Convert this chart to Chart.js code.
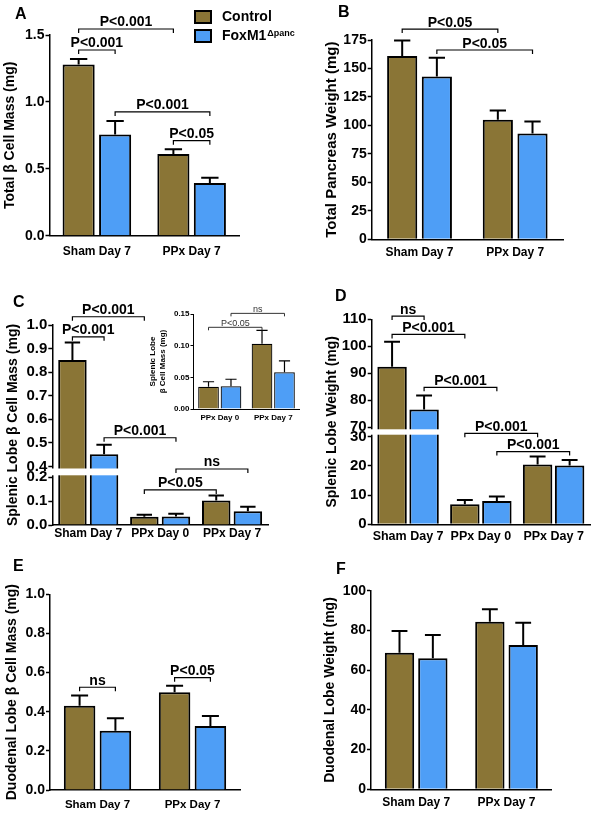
<!DOCTYPE html>
<html>
<head>
<meta charset="utf-8">
<script src="https://cdn.jsdelivr.net/npm/chart.js@4.4.0/dist/chart.umd.min.js"></script>
<style>
  body { margin: 0; background: #fff; }
  #fig { position: relative; width: 599px; height: 825px; overflow: hidden; background: #fff; }
  #fig canvas { position: absolute; }
</style>
</head>
<body>
<div id="fig">
  <canvas id="chartA"></canvas>
  <canvas id="chartB"></canvas>
  <canvas id="chartC"></canvas>
  <canvas id="chartD"></canvas>
  <canvas id="chartE"></canvas>
  <canvas id="chartF"></canvas>
  <canvas id="chartInset"></canvas>
</div>
<script>
// ---- data ----
const seriesNames = ['Control', 'FoxM1'];
const seriesSup = 'Δpanc';

const catsTwo = ['Sham Day 7', 'PPx Day 7'];
const catsThree = ['Sham Day 7', 'PPx Day 0', 'PPx Day 7'];

// A: total beta cell mass (mg)
const ctrlA = [1.28, 0.61];
const ctrlErrA = [0.04, 0.037];
const foxA = [0.757, 0.393];
const foxErrA = [0.10, 0.04];

// B: total pancreas weight (mg)
const ctrlB = [161, 105];
const ctrlErrB = [13.5, 8];
const foxB = [143, 93];
const foxErrB = [16.5, 10.5];

// C: splenic lobe beta cell mass (mg), also used by the inset
const ctrlC = [0.852, 0.035, 0.103];
const ctrlErrC = [0.074, 0.008, 0.021];
const foxC = [0.452, 0.036, 0.058];
const foxErrC = [0.04, 0.011, 0.018];
const ticksC = [0, 0.1, 0.2, 0.4, 0.5, 0.6, 0.7, 0.8, 0.9, 1.0];

// D: splenic lobe weight (mg)
const ctrlD = [92.4, 6.9, 20.5];
const ctrlErrD = [9.3, 1.4, 2.7];
const foxD = [76.6, 8.0, 20.1];
const foxErrD = [5.2, 1.5, 1.9];
const ticksD = [0, 10, 20, 30, 70, 80, 90, 100, 110];

// E: duodenal lobe beta cell mass (mg)
const ctrlE = [0.43, 0.50];
const ctrlErrE = [0.053, 0.033];
const foxE = [0.303, 0.327];
const foxErrE = [0.063, 0.051];

// F: duodenal lobe weight (mg)
const ctrlF = [68.8, 84.4];
const ctrlErrF = [10.9, 6.2];
const foxF = [66, 72.7];
const foxErrF = [11.7, 11.2];

// significance brackets: [from, to, y value, label]
// from/to is [dataset, category] (a bar) or a category position
const sigA = [
  [[0, 0], [0, 1], 1.545, 'P<0.001'],
  [[0, 0], [1, 0], 1.388, 'P<0.001'],
  [[1, 0], [1, 1], 0.925, 'P<0.001'],
  [[0, 1], [1, 1], 0.71, 'P<0.05']
];
const sigB = [
  [[0, 0], [0, 1], 184.6, 'P<0.05'],
  [[1, 0], [1, 1], 166.2, 'P<0.05']
];
const sigC = [
  [[0, 0], [0, 1], 1.035, 'P<0.001'],
  [[0, 0], [1, 0], 0.95, 'P<0.001'],
  [[1, 0], [1, 1], 0.522, 'P<0.001'],
  [[1, 1], [1, 2], 0.354, 'ns'],
  [[0, 1], [0, 2], 0.147, 'P<0.05']
];
const sigD = [
  [[0, 0], [1, 0], 111.2, 'ns'],
  [[0, 0], [0, 1], 104.4, 'P<0.001'],
  [[1, 0], [1, 1], 84.8, 'P<0.001'],
  [[0, 1], [0, 2], 44.5, 'P<0.001'],
  [[1, 1], [1, 2], 24.9, 'P<0.001']
];
const sigE = [
  [[0, 0], [1, 0], 0.525, 'ns'],
  [[0, 1], [1, 1], 0.574, 'P<0.05']
];
const sigInset = [
  [[0, 0], [0, 1], 0.129, 'P<0.05'],
  [[1, 0], [1, 1], 0.151, 'ns']
];

// ---- style ----
const FONT = "'Liberation Sans', Arial, sans-serif";
const BROWN = '#8a7536';
const BLUE = '#4e9ef6';

Chart.defaults.font.family = FONT;
Chart.defaults.font.weight = 'bold';
Chart.defaults.color = '#000';
Chart.defaults.animation = false;

// linear scale with a gap (broken axis)
class BrokenScale extends Chart.LinearScale {
  brkDecimal(v) {
    const b = this.brk;
    if (v <= b.lo) return (v - this.min) / (b.lo - this.min) * b.dLo;
    if (v >= b.hi) return b.dHi + (v - b.hi) / (this.max - b.hi) * (1 - b.dHi);
    return b.dLo + (v - b.lo) / (b.hi - b.lo) * (b.dHi - b.dLo);
  }
  getPixelForValue(v) {
    return v === null ? NaN : this.getPixelForDecimal(this.brkDecimal(v));
  }
  getValueForPixel(p) {
    const b = this.brk;
    const d = this.getDecimalForPixel(p);
    if (d <= b.dLo) return this.min + d / b.dLo * (b.lo - this.min);
    if (d >= b.dHi) return b.hi + (d - b.dHi) / (1 - b.dHi) * (this.max - b.hi);
    return b.lo + (d - b.dLo) / (b.dHi - b.dLo) * (b.hi - b.lo);
  }
}
BrokenScale.id = 'broken';
BrokenScale.defaults = Chart.LinearScale.defaults;
Chart.register(BrokenScale);

// error bars, break stripe, brackets, panel letter, legend
function decor(p) {
  return {
    id: 'decor',
    afterDatasetsDraw(chart) {
      const ctx = chart.ctx, a = chart.chartArea, ys = chart.scales.y;
      ctx.save();
      ctx.beginPath();
      ctx.rect(a.left, a.top - 3, a.right - a.left, a.bottom - a.top + 3);
      ctx.clip();
      ctx.strokeStyle = '#000';
      ctx.lineWidth = p.errW;
      chart.data.datasets.forEach((ds, di) => {
        chart.getDatasetMeta(di).data.forEach((bar, i) => {
          const top = ys.getPixelForValue(ds.data[i] + ds.err[i]);
          const half = bar.width * 0.27;
          ctx.beginPath();
          ctx.moveTo(bar.x, bar.y);
          ctx.lineTo(bar.x, top);
          ctx.moveTo(bar.x - half, top);
          ctx.lineTo(bar.x + half, top);
          ctx.stroke();
        });
      });
      ctx.restore();
      if (p.brk) {
        const y1 = ys.getPixelForValue(p.brk.hi) + 2;
        const y2 = ys.getPixelForValue(p.brk.lo) - 2;
        const last = chart.getDatasetMeta(1).data[0];
        ctx.fillStyle = '#fff';
        ctx.fillRect(a.left - 2, y1, last.x + last.width / 2 + 3 - (a.left - 2), y2 - y1);
      }
    },
    afterDraw(chart) {
      const ctx = chart.ctx, ys = chart.scales.y, xs = chart.scales.x;
      const xOf = e => Array.isArray(e) ? chart.getDatasetMeta(e[0]).data[e[1]].x : xs.getPixelForValue(e);
      ctx.save();
      ctx.strokeStyle = p.sigColor || '#000';
      ctx.fillStyle = p.sigColor || '#000';
      ctx.lineWidth = p.sigW || 1.2;
      ctx.font = p.sigFont || ('bold 14px ' + FONT);
      ctx.textAlign = 'center';
      ctx.textBaseline = 'alphabetic';
      (p.sig || []).forEach(([from, to, v, label]) => {
        const x1 = xOf(from), x2 = xOf(to), y = ys.getPixelForValue(v);
        ctx.beginPath();
        ctx.moveTo(x1, y + p.leg);
        ctx.lineTo(x1, y);
        ctx.lineTo(x2, y);
        ctx.lineTo(x2, y + p.leg);
        ctx.stroke();
        ctx.fillText(label, (x1 + x2) / 2, y - p.sigGap);
      });
      if (p.letter) {
        ctx.fillStyle = '#000';
        ctx.font = 'bold 16px ' + FONT;
        ctx.textAlign = 'left';
        ctx.textBaseline = 'middle';
        ctx.fillText(p.letter[0], p.letter[1], p.letter[2]);
      }
      if (p.legend) {
        const L = p.legend;
        chart.data.datasets.forEach((ds, i) => {
          const top = L.y + i * L.step;
          ctx.fillStyle = ds.backgroundColor;
          ctx.fillRect(L.x, top, L.w, L.h);
          ctx.strokeStyle = '#000';
          ctx.lineWidth = 2;
          ctx.strokeRect(L.x, top, L.w, L.h);
          ctx.fillStyle = '#000';
          ctx.font = 'bold 14px ' + FONT;
          ctx.textAlign = 'left';
          ctx.textBaseline = 'middle';
          const tx = L.x + L.w + 11;
          ctx.fillText(ds.label, tx, top + L.h / 2 + 0.5);
          if (i === 1) {
            const w = ctx.measureText(ds.label).width;
            ctx.font = 'bold 9px ' + FONT;
            ctx.textBaseline = 'alphabetic';
            ctx.fillText(seriesSup, tx + w + 1, top + L.h / 2 - 0.5);
          }
        });
      }
      ctx.restore();
    }
  };
}

function barPanel(id, p) {
  const [ox, oy, w, h] = p.box;
  const [l, t, r, b] = p.area;
  const el = document.getElementById(id);
  el.width = w;
  el.height = h;
  el.style.left = ox + 'px';
  el.style.top = oy + 'px';
  const lineW = p.lineW || 1.5;

  const yOpts = {
    type: p.brk ? 'broken' : 'linear',
    min: p.min,
    max: p.max,
    ticks: { stepSize: p.step, autoSkip: false, padding: p.tickPad || 1, font: { size: p.tickSize }, callback: p.fmt },
    grid: { drawOnChartArea: false, tickLength: p.tickLen || 4, tickWidth: lineW, tickColor: '#000', color: '#000' },
    border: { color: '#000', width: lineW },
    title: {
      display: true, text: p.title,
      font: { size: p.titleSize || 14, lineHeight: p.titleLH || 1.2 },
      padding: { top: p.titlePad, bottom: 0 }
    },
    afterFit: s => { s.width = l - ox; }
  };
  if (p.ticks) yOpts.afterBuildTicks = s => { s.ticks = p.ticks.map(v => ({ value: v })); };
  if (p.brk) yOpts.afterDataLimits = s => { s.brk = p.brk; };

  return new Chart(el, {
    type: 'bar',
    data: {
      labels: p.labels,
      datasets: p.series.map((s, i) => ({
        label: seriesNames[i],
        data: s[0],
        err: s[1],
        backgroundColor: [BROWN, BLUE][i],
        borderColor: '#000',
        borderWidth: p.barBorder || 2,
        categoryPercentage: p.catPct,
        barPercentage: p.barPct
      }))
    },
    options: {
      responsive: false,
      animation: false,
      layout: { padding: { left: 0, top: t - oy, right: ox + w - r, bottom: oy + h - b - p.xH } },
      scales: {
        x: {
          grid: { display: false, drawTicks: false, tickLength: 0 },
          border: { color: '#000', width: lineW },
          ticks: { font: { size: p.xSize }, padding: p.xPad, maxRotation: 0, autoSkip: false },
          afterFit: s => { s.height = p.xH; }
        },
        y: yOpts
      },
      plugins: { legend: { display: false }, tooltip: { enabled: false } }
    },
    plugins: [decor(p)]
  });
}

const fix1 = v => Number(v).toFixed(1);
const fix2 = v => Number(v).toFixed(2);
const whole = v => String(Math.round(v));

barPanel('chartA', {
  box: [0, 0, 300, 270], area: [49.5, 35, 239, 235.7],
  labels: catsTwo, series: [[ctrlA, ctrlErrA], [foxA, foxErrA]],
  min: 0, max: 1.5, step: 0.5, fmt: fix1, tickSize: 14,
  title: 'Total β Cell Mass (mg)', titlePad: 1.6,
  xH: 32, xSize: 12, xPad: 9, catPct: 0.77, barPct: 0.88, errW: 2,
  sig: sigA, leg: 4, sigGap: 2.5, letter: ['A', 15, 15],
  legend: { x: 195, y: 11, w: 16, h: 12, step: 19 }
});

barPanel('chartB', {
  box: [300, 0, 299, 270], area: [371.7, 40, 563, 239.3],
  labels: catsTwo, series: [[ctrlB, ctrlErrB], [foxB, foxErrB]],
  min: 0, max: 175, step: 25, fmt: whole, tickSize: 14,
  title: 'Total Pancreas Weight (mg)', titleSize: 15, titlePad: 22.7,
  xH: 30, xSize: 12, xPad: 6.4, catPct: 0.725, barPct: 0.87, errW: 2,
  sig: sigB, leg: 4, sigGap: 2.5, letter: ['B', 38, 13]
});

barPanel('chartC', {
  box: [0, 270, 300, 280], area: [52.3, 325, 268, 525],
  labels: catsThree, series: [[ctrlC, ctrlErrC], [foxC, foxErrC]],
  min: 0, max: 1.0, step: 0.1, ticks: ticksC, fmt: fix1, tickSize: 15,
  brk: { lo: 0.2, hi: 0.4, dLo: 0.2385, dHi: 0.2925 },
  title: 'Splenic Lobe β Cell Mass (mg)', titlePad: 4.6,
  xH: 24, xSize: 12, xPad: 1, catPct: 0.88, barPct: 0.9, errW: 2,
  sig: sigC, leg: 4, sigGap: 2.5, letter: ['C', 13, 33]
});

barPanel('chartD', {
  box: [300, 270, 299, 280], area: [371.7, 319.3, 590, 524.3],
  labels: catsThree, series: [[ctrlD, ctrlErrD], [foxD, foxErrD]],
  min: 0, max: 110, step: 10, ticks: ticksD, fmt: whole, tickSize: 15,
  brk: { lo: 30, hi: 70, dLo: 0.4273, dHi: 0.4732 },
  title: 'Splenic Lobe Weight (mg)', titlePad: 23.3,
  xH: 26, xSize: 12.5, xPad: 5, catPct: 0.88, barPct: 0.92, errW: 2,
  sig: sigD, leg: 4, sigGap: 2.5, letter: ['D', 35, 27]
});

barPanel('chartE', {
  box: [0, 550, 300, 275], area: [50, 594.3, 240, 790],
  labels: catsTwo, series: [[ctrlE, ctrlErrE], [foxE, foxErrE]],
  min: 0, max: 1.0, step: 0.2, fmt: fix1, tickSize: 14,
  title: 'Duodenal Lobe β Cell Mass (mg)', titlePad: 3.3,
  xH: 32, xSize: 11.5, xPad: 8, catPct: 0.754, barPct: 0.88, errW: 2,
  sig: sigE, leg: 4, sigGap: 2.5, letter: ['E', 13, 17]
});

barPanel('chartF', {
  box: [300, 550, 299, 275], area: [371, 590.7, 551.7, 789.3],
  labels: catsTwo, series: [[ctrlF, ctrlErrF], [foxF, foxErrF]],
  min: 0, max: 100, step: 20, fmt: whole, tickSize: 14,
  title: 'Duodenal Lobe Weight (mg)', titlePad: 21.6,
  xH: 32, xSize: 12, xPad: 6.4, catPct: 0.738, barPct: 0.88, errW: 2,
  sig: [], leg: 4, sigGap: 2.5, letter: ['F', 36, 20]
});

barPanel('chartInset', {
  box: [140, 295, 160, 135], area: [193, 314, 300, 409],
  labels: catsThree.slice(1),
  series: [[ctrlC.slice(1), ctrlErrC.slice(1)], [foxC.slice(1), foxErrC.slice(1)]],
  min: 0, max: 0.15, step: 0.05, fmt: fix2, tickSize: 8, tickLen: 2.5, tickPad: 1,
  title: ['Splenic Lobe', 'β Cell Mass (mg)'], titleSize: 8, titleLH: 1.25, titlePad: 8,
  xH: 18, xSize: 8, xPad: 3.7, catPct: 0.84, barPct: 0.92, barBorder: 1.2, lineW: 1, errW: 1.2,
  sig: sigInset, sigFont: 'normal 9px ' + FONT, sigColor: '#333', sigW: 1, leg: 3, sigGap: 1.5
});
</script>
</body>
</html>
